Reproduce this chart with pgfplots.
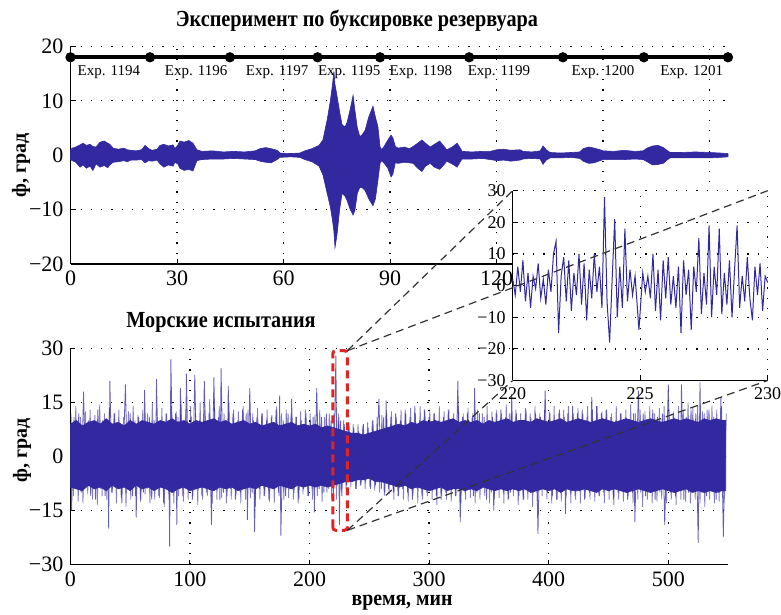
\documentclass[border=0pt]{standalone}
\usepackage{fontspec}
\setmainfont{Liberation Serif}
\usepackage{graphicx}
\usepackage{pgfplots}
\pgfplotsset{compat=1.18}
\usepackage{pgfplotstable}
\definecolor{sig}{RGB}{50,40,160}
\definecolor{boxred}{RGB}{225,35,35}

% top experiment envelope: x (min), upper, lower
\pgfplotstableread{
x up lo
0 1.0 -0.8
0.5 1.3 -1.0
1.5 1.5 -1.3
2.7 1.9 -2.2
3.5 2.2 -1.8
4.5 1.8 -2.4
5.5 2.0 -2.0
6.3 1.6 -2.8
7.2 1.5 -1.6
8.3 2.4 -2.2
9.5 2.6 -1.9
10.5 2.2 -2.3
11.1 2.0 -1.8
12 1.3 -1.3
13.5 1.1 -1.2
15 1.3 -1.0
16 1.0 -1.2
17 0.9 -0.9
18.5 0.8 -0.9
20 1.0 -0.8
21 1.8 -1.4
22 1.2 -1.0
23 0.9 -1.1
24.4 1.1 -0.9
25.2 1.8 -1.6
26.3 2.0 -2.2
27.5 1.7 -1.8
28.9 1.9 -2.0
29.4 1.2 -1.3
30.2 1.8 -1.6
30.8 2.6 -2.4
32 2.4 -2.8
33.3 2.7 -2.6
34.5 2.2 -2.9
35.6 1.0 -1.0
37 0.7 -0.8
40 0.8 -0.7
43 0.6 -0.7
46 0.7 -0.6
49 0.6 -0.7
52 0.8 -0.8
53.4 1.2 -1.1
55 1.4 -1.3
56.5 1.2 -1.4
58.2 0.9 -0.8
59 0.4 -0.4
62 0.3 -0.3
64.6 0.4 -0.4
66 0.8 -0.8
68 1.2 -1.2
70 1.8 -2.0
71.1 2.8 -3.6
72.3 6.5 -7.0
73.2 10 -9.5
73.8 13 -12
74.2 15.4 -14
74.5 13 -17
75.1 10.8 -14.5
75.8 8 -10
76.5 5.6 -7
77.3 5.2 -7.5
77.9 6.0 -8.3
78.8 8.5 -10
79.6 11 -11
80.1 8.3 -10.2
80.8 5 -7
81.5 3.4 -5.9
82.2 3.8 -6
83 4.6 -6.5
84 7 -8
85.2 9 -9.3
85.9 7 -8
86.6 5.2 -4.6
87.2 1.5 -1.5
87.7 1.0 -1.0
88.5 1.8 -1.6
89.4 2.8 -2.4
90.3 3.7 -4.0
90.8 3.2 -3.5
91.5 1.6 -1.4
92.3 1.3 -1.5
94 1.5 -1.3
95.5 1.2 -1.4
96.5 1.6 -1.5
98 2.3 -2.5
99 2.8 -3.0
100 2.2 -2.0
101.3 1.5 -1.5
102.5 2.0 -2.2
104 2.6 -2.6
105 1.8 -1.9
106 1.0 -1.1
107.5 1.5 -1.6
108.9 2.2 -2.2
109.8 1.3 -1.2
110.3 0.7 -0.7
113 0.6 -0.7
116 0.7 -0.6
118.2 0.7 -0.8
120.1 1.0 -1.0
122 1.1 -0.9
124 0.9 -1.1
126.6 1.0 -0.9
127.5 0.7 -0.7
130 0.6 -0.6
132.3 0.8 -0.7
133.1 1.7 -1.7
134 1.0 -0.9
135.1 0.5 -0.5
138 0.4 -0.5
141 0.5 -0.4
143.5 0.6 -0.6
144.4 1.2 -1.1
146 1.5 -1.5
147.5 1.3 -1.4
149.2 1.0 -1.0
150 0.8 -0.8
153 0.7 -0.8
156 0.9 -0.8
159 0.7 -0.7
161.3 0.8 -0.8
162.4 1.3 -1.2
164 1.7 -1.8
165.5 1.8 -1.7
167 1.4 -1.5
168 0.9 -0.9
168.9 0.5 -0.5
172 0.5 -0.5
176 0.6 -0.5
180 0.5 -0.5
183 0.4 -0.4
185.2 0.3 -0.3
}\toptable

% sea trials dense core envelope
\pgfplotstableread{
x up lo
0 9 -8.5
5 10 -9
10 8.5 -9.5
15 9.5 -8
20 10 -9
25 9 -8.5
30 10.5 -9.5
35 9 -8
40 9.5 -9
45 8.5 -8.5
50 10 -9.5
55 9 -8
60 10 -9
65 9.5 -8.5
70 9 -9.5
75 10 -8.5
80 9.5 -9
85 10.5 -10
90 9.5 -9
95 10 -8.5
100 9 -9.5
105 10 -9
110 9.5 -8.5
115 10 -9
120 10.5 -9.5
125 9.5 -8.5
130 10 -9
135 9 -8.5
140 9.5 -9.5
145 10 -9
150 9 -8.5
155 9.5 -9
160 8.5 -8
165 9 -8.5
170 9.5 -9
175 8.5 -8
180 9 -8.5
185 9.5 -9
190 8.5 -8
195 9 -8.5
200 8.5 -8
205 9 -8.5
210 8 -8
215 8.5 -8.5
220 8 -8
225 7.5 -7.5
230 7 -7
235 6.5 -7
240 6.5 -6.5
245 6 -6.5
250 6.5 -6
255 7 -7
260 7.5 -7
265 8 -7.5
270 8.5 -8
275 9 -8.5
280 8.5 -8
285 9.5 -9
290 9 -8.5
295 10 -9
300 9.5 -9.5
305 10 -9
310 9.5 -8.5
315 10 -9.5
320 10.5 -9
325 9.5 -9
330 10 -9.5
335 9.5 -9
340 10 -9.5
345 9 -8.5
350 10 -9
355 9.5 -9.5
360 10 -9
365 10.5 -9.5
370 9.5 -9
375 10 -9.5
380 10 -9
385 9.5 -10
390 10.5 -9.5
395 10 -9
400 9.5 -9.5
405 10 -9
410 10.5 -10
415 9.5 -9
420 10 -9.5
425 10.5 -9.5
430 10 -9
435 9.5 -9.5
440 10 -10
445 10.5 -9
450 10 -9.5
455 9.5 -9
460 10 -9.5
465 10.5 -10
470 10 -9.5
475 9.5 -9
480 10 -9.5
485 10.5 -10
490 10 -9.5
495 9.5 -9
500 10 -9.5
505 10.5 -10
510 10 -9.5
515 10.5 -9
520 10 -10
525 9.5 -9.5
530 10.5 -10
535 10 -9.5
540 10.5 -10
545 10 -9.5
548 10 -9.5
}\seatable

\pgfplotsset{
  mystyle/.style={
    scale only axis, anchor=south west, clip=false,
    axis x line=bottom, axis y line=left,
    axis line style={-, line width=0.6pt, black},
    grid=major,
    grid style={black, line width=0.7pt, dash pattern=on 0.6pt off 4.5pt},
    tick align=inside, major tick length=2.5pt,
    tick style={black, line width=0.5pt},
    ticklabel style={font=\fontsize{11}{11}\selectfont},
  }
}

\begin{document}
\begin{tikzpicture}
\useasboundingbox (0,0) rectangle (390.5pt,307.5pt);

% ---------- top: tank towing experiment ----------
\begin{axis}[mystyle,
  at={(35.25pt,175.5pt)}, width=330.15pt, height=108.8pt,
  xmin=0, xmax=186, ymin=-20, ymax=20,
  xtick={0,30,60,90,120,150,180},
  xticklabels={0,30,60,90,120,150,180},
  ytick={-20,-10,0,10,20},
  yticklabels={−20,−10,0,10,20},
]
\addplot[sig, fill=sig, line width=0.3pt] table[x=x,y=up] {\toptable} \closedcycle;
\addplot[sig, fill=sig, line width=0.3pt] table[x=x,y=lo] {\toptable} \closedcycle;
\addplot[black, line width=2pt, mark=*, mark size=1.5pt]
  coordinates {(0,18)(22.4,18)(44.9,18)(69.6,18)(87.2,18)(112.3,18)(138.7,18)(161.5,18)(185.2,18)};
\node[font=\fontsize{7.5}{7.5}\selectfont, inner sep=0pt] at (axis cs:10.8,15.3) {Exp. 1194};
\node[font=\fontsize{7.5}{7.5}\selectfont, inner sep=0pt] at (axis cs:35.4,15.3) {Exp. 1196};
\node[font=\fontsize{7.5}{7.5}\selectfont, inner sep=0pt] at (axis cs:58.2,15.3) {Exp. 1197};
\node[font=\fontsize{7.5}{7.5}\selectfont, inner sep=0pt] at (axis cs:78.5,15.3) {Exp. 1195};
\node[font=\fontsize{7.5}{7.5}\selectfont, inner sep=0pt] at (axis cs:98.7,15.3) {Exp. 1198};
\node[font=\fontsize{7.5}{7.5}\selectfont, inner sep=0pt] at (axis cs:120.7,15.3) {Exp. 1199};
\node[font=\fontsize{7.5}{7.5}\selectfont, inner sep=0pt] at (axis cs:150,15.3) {Exp. 1200};
\node[font=\fontsize{7.5}{7.5}\selectfont, inner sep=0pt] at (axis cs:175,15.3) {Exp. 1201};
\end{axis}

% ---------- bottom: sea trials ----------
\begin{axis}[mystyle,
  at={(35.2pt,25.25pt)}, width=328.85pt, height=108pt,
  xmin=0, xmax=550, ymin=-30, ymax=30,
  xtick={0,100,200,300,400,500},
  xticklabels={0,100,200,300,400,500},
  ytick={-30,-15,0,15,30},
  yticklabels={−30,−15,0,15,30},
]
\addplot[sig, fill=sig, line width=0.3pt] table[x=x,y=up] {\seatable} \closedcycle;
\addplot[sig, fill=sig, line width=0.3pt] table[x=x,y=lo] {\seatable} \closedcycle;
% moderate fringe oscillation
\addplot[sig, opacity=0.6, line width=0.4pt] coordinates {
(0.5,12)(2.5,-11)(4.5,14)(6.5,-12.5)(8.5,11)(10.5,-13)(12.5,12.5)(14.5,-10.5)(16.5,13)(18.5,-12)
(20.5,11.5)(22.5,-13.5)(24.5,14.5)(26.5,-11)(28.5,12)(30.5,-12)(32.5,13.5)(34.5,-10)(36.5,12)(38.5,-13)
(40.5,13)(42.5,-11.5)(44.5,11)(46.5,-14)(48.5,12.5)(50.5,-12)(52.5,14)(54.5,-11)(56.5,11.5)(58.5,-12.5)
(60.5,13)(62.5,-10.5)(64.5,12)(66.5,-13)(68.5,15)(70.5,-12)(72.5,11)(74.5,-11.5)(76.5,13.5)(78.5,-14)
(80.5,12)(82.5,-12)(84.5,14)(86.5,-13)(88.5,12.5)(90.5,-11)(92.5,15.5)(94.5,-12.5)(96.5,13)(98.5,-12)
(100.5,14)(102.5,-11)(104.5,12)(106.5,-13.5)(108.5,15)(110.5,-12)(112.5,13)(114.5,-11)(116.5,16)(118.5,-13)
(120.5,13.5)(122.5,-12)(124.5,14)(126.5,-11.5)(128.5,12)(130.5,-13)(132.5,15)(134.5,-12)(136.5,13)(138.5,-11)
(140.5,12.5)(142.5,-13)(144.5,14)(146.5,-12)(148.5,13)(150.5,-11.5)(152.5,12)(154.5,-14)(156.5,13.5)(158.5,-12)
(160.5,12)(162.5,-11)(164.5,13)(166.5,-12.5)(168.5,11.5)(170.5,-13)(172.5,14)(174.5,-11)(176.5,12)(178.5,-12)
(180.5,13)(182.5,-11.5)(184.5,12)(186.5,-12)(188.5,11)(190.5,-13)(192.5,12.5)(194.5,-10.5)(196.5,13)(198.5,-11)
(200.5,12)(202.5,-12)(204.5,11.5)(206.5,-11)(208.5,13)(210.5,-12.5)(212.5,11)(214.5,-10)(216.5,12)(218.5,-11.5)
(220.5,12)(222.5,-12)(224.5,11)(226.5,-10)(228.5,10)(230.5,-9)(232.5,9.5)(234.5,-8.5)(236.5,9)(238.5,-9)
(240.5,9)(242.5,-8)(244.5,8.5)(246.5,-9)(248.5,9.5)(250.5,-8.5)(252.5,10)(254.5,-9.5)(256.5,11)(258.5,-10)
(260.5,11.5)(262.5,-11)(264.5,12)(266.5,-10.5)(268.5,12.5)(270.5,-12)(272.5,11)(274.5,-11)(276.5,13)(278.5,-12)
(280.5,12)(282.5,-12.5)(284.5,13.5)(286.5,-11)(288.5,12)(290.5,-13)(292.5,14)(294.5,-12)(296.5,12.5)(298.5,-11)
(300.5,13)(302.5,-12)(304.5,12)(306.5,-13.5)(308.5,14)(310.5,-11)(312.5,12.5)(314.5,-12)(316.5,13)(318.5,-12.5)
(320.5,12)(322.5,-11)(324.5,14)(326.5,-13)(328.5,12)(330.5,-12)(332.5,13.5)(334.5,-11.5)(336.5,12)(338.5,-13)
(340.5,13)(342.5,-12)(344.5,12)(346.5,-11)(348.5,14)(350.5,-13)(352.5,12.5)(354.5,-12)(356.5,13)(358.5,-11.5)
(360.5,12)(362.5,-13)(364.5,14.5)(366.5,-12)(368.5,12)(370.5,-11)(372.5,13)(374.5,-13.5)(376.5,12)(378.5,-12)
(380.5,13.5)(382.5,-12)(384.5,12)(386.5,-14)(388.5,14)(390.5,-12.5)(392.5,12)(394.5,-11)(396.5,13)(398.5,-12)
(400.5,12.5)(402.5,-13)(404.5,14)(406.5,-12)(408.5,12)(410.5,-12.5)(412.5,13)(414.5,-11)(416.5,14)(418.5,-13)
(420.5,12)(422.5,-12)(424.5,13.5)(426.5,-13)(428.5,12)(430.5,-11.5)(432.5,14)(434.5,-12)(436.5,13)(438.5,-12.5)
(440.5,14)(442.5,-11)(444.5,12.5)(446.5,-13)(448.5,13)(450.5,-12)(452.5,12)(454.5,-13.5)(456.5,14)(458.5,-12)
(460.5,12)(462.5,-12.5)(464.5,13)(466.5,-11)(468.5,14.5)(470.5,-13)(472.5,12)(474.5,-12)(476.5,13)(478.5,-14)
(480.5,12.5)(482.5,-12)(484.5,14)(486.5,-13)(488.5,12)(490.5,-12.5)(492.5,13.5)(494.5,-12)(496.5,14)(498.5,-13)
(500.5,13)(502.5,-12)(504.5,12.5)(506.5,-13.5)(508.5,14)(510.5,-12)(512.5,13)(514.5,-12.5)(516.5,15)(518.5,-13)
(520.5,13.5)(522.5,-12)(524.5,14)(526.5,-13)(528.5,12.5)(530.5,-14)(532.5,13)(534.5,-12)(536.5,14)(538.5,-13)
(540.5,13)(542.5,-12.5)(544.5,14)(546.5,-13)(548.5,12)
};
% main oscillation with spikes
\addplot[sig, opacity=0.75, line width=0.4pt] coordinates {
(0,9)(1,-15)(3,11)(5,-9)(7,12)(9,-10)(11,18)(13,-8)(15,10)(17,-11)(19,8)(21,-12)(23,13)(25,-9)(27,10)(29,-11)(31,9)(32,-20)(33,21)(35,-10)(37,12)(39,-8)(41,9)(43,-13)(46,20)(48,-9)(50,12)(52,-11)(54,10)(55,-17)(57,11)(59,-12)(60,9)(61,-10)(62,18.5)(64,-9)(66,11)(68,-12)(70,10)(71,-9)(72,21.5)(74,-11)(76,9)(78,-13)(80,12)(81,-9)(82,10)(83,-25)(84,27)(86,-10)(88,12)(89,-19)(90,11)(91,-8)(92,19)(94,-11)(95,9)(96,-9)(97,23)(99,-10)(101,11)(102,-12)(104,22.7)(106,-9)(108,10)(110,-11)(112,21)(114,-10)(116,12)(118,-19)(120,22)(122,-9)(124,11)(125,-12)(126,24.6)(128,-10)(130,9)(131,-11)(132,19.6)(134,-9)(136,12)(138,-12)(140,10)(142,-10)(144,13)(146,-9)(147,12)(148,-17.6)(150,19)(152,-10)(153,10)(154,-21)(156,11)(158,-9)(160,12)(162,-11)(164,10)(166,-12)(168,11)(170,-9)(172,13)(174,-10)(175,17)(176,-22)(178,10)(180,-11)(182,12)(184,-9)(185,16)(187,-10)(189,11)(191,-12)(193,10)(195,-9)(197,12)(199,-11)(201,10)(202,-9)(203,11)(204,-15.5)(206,19)(208,-9)(210,11)(212,-10)(214,12)(216,-9)(218,10)(220,-11)(222,28)(223,-8)(224,12)(225,-19)(226,10)(227,-11)(229,9)(231,-8)(233,9)(235,-7)(237,8)(239,-9)(241,7)(243,-8)(245,9)(247,-7)(249,8)(251,-9)(253,10)(255,-8)(258,16)(260,-9)(262,11)(263,-10)(264,15.5)(266,-9)(268,11)(270,-10)(272,12)(274,-11)(276,10)(278,-9)(280,13)(282,-10)(284,11)(286,-12)(288,14)(290,-9)(292,10)(294,-11)(296,13)(298,-10)(300,11)(302,-9)(304,12)(306,-11)(308,10)(310,-12)(312,11)(314,-10)(316,13)(318,-9)(320,10)(322,-11)(324,21)(326,-18.2)(328,11)(330,-10)(332,12)(334,-9)(336,11)(337,-11)(338,19)(340,-10)(342,12)(344,-9)(346,11)(348,-12)(350,10)(352,-10)(353,11)(354,-15)(356,12)(358,-9)(360,13)(362,-10)(364,11)(366,-12)(367,12)(368,-10)(369,17.4)(371,-9)(373,12)(375,-11)(377,10)(379,-12)(381,13)(383,-9)(385,11)(387,-10)(389,12)(391,-21.5)(393,11)(395,-9)(397,18.3)(399,-10)(401,12)(403,-11)(405,10)(407,-12)(409,13)(411,-9)(413,11)(414,-16)(416,12)(418,-10)(420,14)(422,-11)(424,12)(426,-9)(428,13)(430,-12)(432,11)(434,-10)(436,16.5)(438,-9)(440,14)(442,-11)(444,12)(446,-10)(448,13)(450,-9)(452,11)(454,-12)(456,10)(458,-10)(460,12)(462,-9)(464,11)(466,-12)(468,10)(470,-10)(471,12)(472,-18.2)(475,18.3)(477,-10)(479,12)(481,-11)(483,10)(485,-9)(487,13)(489,-12)(491,11)(493,-10)(495,12)(497,-19)(500,20)(502,-10)(504,12)(506,-11)(508,10)(510,-9)(511,20)(513,-12)(515,11)(517,-10)(519,13)(521,-9)(523,12)(525,-24)(526.5,20.6)(528,-10)(530,12)(532,-11)(534,13)(536,-9)(538,11)(540,-12)(541,10)(542,-10)(544,16.5)(546,-22.4)(548,10)
};
\draw[boxred, line width=1.5pt, dash pattern=on 4pt off 2.5pt, rounded corners=1.5pt]
  (axis cs:219.4,-20.5) rectangle (axis cs:231.6,29.4);
\coordinate (bTR) at (axis cs:231.6,29.4);
\coordinate (bBR) at (axis cs:231.6,-20.5);
\end{axis}

% ---------- inset zoom 220-230 ----------
\begin{axis}[mystyle,
  at={(256.35pt,117.25pt)}, width=127.5pt, height=94.9pt,
  xmin=220, xmax=230, ymin=-30, ymax=30,
  axis background/.style={fill=white},
  xtick={220,225,230}, xticklabels={220,225,230},
  ytick={-30,-20,-10,0,10,20,30},
  yticklabels={−30,−20,−10,0,10,20,30},
  ticklabel style={font=\fontsize{9}{9}\selectfont},
]
\addplot[sig, line width=0.5pt] coordinates {
(220.0,2)(220.1,-3)(220.2,6)(220.3,-2)(220.4,8)(220.5,-5)(220.6,4)(220.7,-7)(220.8,3)(220.9,-1)
(221.0,7)(221.1,-4)(221.2,2)(221.3,-6)(221.4,5)(221.5,-2)(221.6,10)(221.7,14)(221.8,-15)(221.9,3)
(222.0,9)(222.1,-5)(222.2,8)(222.3,-8)(222.4,4)(222.5,-3)(222.6,10)(222.7,-6)(222.8,7)(222.9,-11)
(223.0,5)(223.1,-4)(223.2,10)(223.3,-2)(223.4,6)(223.5,-7)(223.6,28)(223.7,-5)(223.8,-18)(223.9,2)
(224.0,21)(224.1,-10)(224.2,6)(224.3,-7)(224.4,18)(224.5,-5)(224.6,5)(224.7,-3)(224.8,3)(224.95,-14)
(225.1,4)(225.2,-2)(225.3,3)(225.4,-4)(225.5,10)(225.6,-8)(225.7,5)(225.8,-11)(225.9,8)
(226.0,-4)(226.1,9)(226.2,-6)(226.3,3)(226.4,-7)(226.5,6)(226.6,-15)(226.7,8)(226.8,-3)(226.9,5)
(227.0,-14)(227.1,6)(227.2,-2)(227.3,15)(227.4,-9)(227.5,4)(227.6,-6)(227.7,19)(227.8,-10)(227.9,6)
(228.0,-3)(228.1,18)(228.2,-9)(228.3,4)(228.4,-6)(228.5,8)(228.6,-10)(228.7,5)(228.8,19)(228.9,-7)
(229.0,3)(229.1,-5)(229.2,9)(229.3,-4)(229.4,-11)(229.5,6)(229.6,-3)(229.7,7)(229.8,-8)(229.9,3)(230.0,1)
};
\coordinate (iTL) at (rel axis cs:0,1);
\coordinate (iTR) at (rel axis cs:1,1);
\coordinate (iBL) at (rel axis cs:0,0);
\coordinate (iBR) at (rel axis cs:1,0);
\end{axis}

% zoom connector lines
\draw[black!80, line width=0.6pt, dash pattern=on 4pt off 2.5pt] (bTR) -- (iTL);
\draw[black!80, line width=0.6pt, dash pattern=on 4pt off 2.5pt] (bTR) -- (iTR);
\draw[black!80, line width=0.6pt, dash pattern=on 4pt off 2.5pt] (bBR) -- (iBL);
\draw[black!80, line width=0.6pt, dash pattern=on 4pt off 2.5pt] (bBR) -- (iBR);

% titles and labels
\node[font=\bfseries\fontsize{11.5}{11.5}\selectfont] at (178.5pt,297pt) {\scalebox{0.88}[1]{Эксперимент по буксировке резервуара}};
\node[font=\bfseries\fontsize{11.5}{11.5}\selectfont] at (110.5pt,146.5pt) {\scalebox{0.88}[1]{Морские испытания}};
\node[font=\bfseries\fontsize{10}{10}\selectfont, rotate=90] at (10.5pt,225pt) {ф, град};
\node[font=\bfseries\fontsize{10}{10}\selectfont, rotate=90] at (11pt,82.5pt) {ф, град};
\node[font=\bfseries\fontsize{11}{11}\selectfont] at (201pt,6pt) {\scalebox{0.9}[1]{время, мин}};
\end{tikzpicture}
\end{document}
